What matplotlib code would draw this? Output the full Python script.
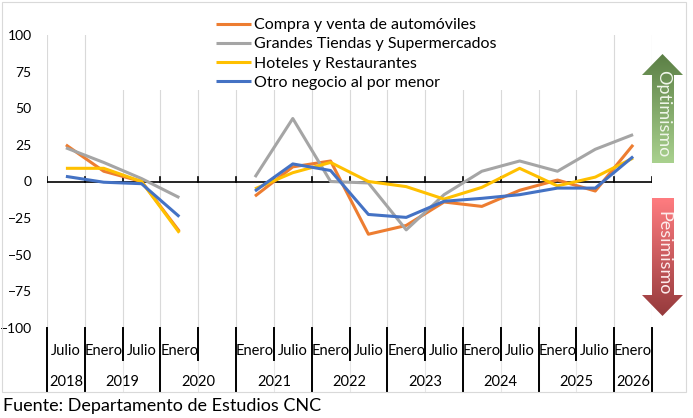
import matplotlib
matplotlib.use('Agg')
import matplotlib.pyplot as plt
import numpy as np
from matplotlib.patches import Polygon, Rectangle
from matplotlib.colors import LinearSegmentedColormap

plt.rcParams['font.family'] = ['Lato', 'DejaVu Sans']

# ---------------- data ----------------
months = ['Julio', 'Enero', 'Julio', 'Enero', '', 'Enero', 'Julio', 'Enero',
          'Julio', 'Enero', 'Julio', 'Enero', 'Julio', 'Enero', 'Julio', 'Enero']
years = ['2018', '2019', '2020', '2021', '2022', '2023', '2024', '2025', '2026']
year_spans = [1, 2, 2, 2, 2, 2, 2, 2, 1]
nan = np.nan
compra = [25, 7, 0, -34, nan, -10, 10, 14, -36, -30, -14, -17, -6, 1, -6.5, 25]
grandes = [23, 13, 2, -11, nan, 3, 43, 0, -1, -33, -9, 7, 14, 7, 22, 32]
hoteles = [9, 9, 0, -35, nan, -5, 6, 13, 0, -3.5, -12, -4, 9, -3, 3, 16]
otro = [3.5, -0.5, -1.5, -24, nan, -6.5, 12, 7.5, -22.5, -24.5, -13.5, -11.5, -9, -4.5, -4.5, 17]
series_names = ['Compra y venta de automóviles', 'Grandes Tiendas y Supermercados',
                'Hoteles y Restaurantes', 'Otro negocio al por menor']
series_vals = [compra, grandes, hoteles, otro]
colors = ['#ED7D31', '#A5A5A5', '#FFC000', '#4472C4']

W, H = 693, 418
fig = plt.figure(figsize=(W / 100, H / 100), dpi=100)
ax = fig.add_axes([47 / W, (H - 328) / H, 605 / W, 293 / H])
ax.set_xlim(0, len(months))
ax.set_ylim(-100, 100)
for s in ax.spines.values():
    s.set_visible(False)
ax.set_xticks([])
ax.set_yticks(range(-100, 101, 25))
ax.tick_params(axis='y', length=0, pad=11, labelsize=10)

n = len(months)
x = np.arange(n) + 0.5
trans = ax.get_xaxis_transform()

# vertical gridlines
for b in range(n + 1):
    ax.plot([b, b], [-100, 100], color='#d9d9d9', lw=0.8, zorder=1)
    ax.plot([b, b], [0, -0.218], color='#e6e6e6', lw=0.8, transform=trans,
            clip_on=False, zorder=1)

# zero axis with ticks
ax.axhline(0, color='black', lw=1.2, zorder=2)
for b in range(n + 1):
    ax.plot([b, b], [0, 3.4], color='black', lw=1.2, zorder=2)

# category axis below
year_bounds = np.concatenate([[0], np.cumsum(year_spans)])
for b in range(n + 1):
    if b in year_bounds:
        ax.plot([b, b], [0, -0.218], color='black', lw=1.4, transform=trans, clip_on=False, zorder=3)
    else:
        ax.plot([b, b], [0, -0.109], color='black', lw=1.4, transform=trans, clip_on=False, zorder=3)
for i, m in enumerate(months):
    ax.text(i + 0.5, -0.0785, m, transform=trans, ha='center', va='center', fontsize=10.5)
for i, yv in enumerate(years):
    c = (year_bounds[i] + year_bounds[i + 1]) / 2
    ax.text(c, -0.184, yv, transform=trans, ha='center', va='center', fontsize=10.5)

# series
handles = []
for name, vals, col in zip(series_names, series_vals, colors):
    h, = ax.plot(x, vals, color=col, lw=2.2, zorder=4, solid_capstyle='butt', label=name)
    handles.append(h)

# overlay in pixel coords
ov = fig.add_axes([0, 0, 1, 1], zorder=1)
ov.set_xlim(0, W)
ov.set_ylim(H, 0)
ov.axis('off')
ov.patch.set_alpha(0)

# white area behind legend
ov.add_patch(Rectangle((100, 25), 500, 65, facecolor='white', edgecolor='none', zorder=1))

# chart border
ov.add_patch(Rectangle((1.5, 1.5), 684, 390, fill=False, edgecolor='#d9d9d9', lw=0.8, zorder=2))


def grad_arrow(pts, extent, c_top, c_bot):
    poly = Polygon(pts, closed=True, facecolor='none', edgecolor='none')
    ov.add_patch(poly)
    cmap = LinearSegmentedColormap.from_list('g', [c_top, c_bot])
    grad = np.linspace(0, 1, 256).reshape(-1, 1)
    im = ov.imshow(grad, cmap=cmap, extent=extent, aspect='auto', origin='upper', zorder=3)
    im.set_clip_path(poly)


grad_arrow([(652, 163), (652, 75), (642, 75), (662.5, 54), (683, 75), (674, 75), (674, 163)],
           [642, 684, 163, 54], '#5b7f45', '#a9d18e')
grad_arrow([(652, 198), (652, 295), (642, 295), (662.5, 316), (683, 295), (674, 295), (674, 198)],
           [642, 684, 316, 198], '#ff7c80', '#953a3c')
ov.set_xlim(0, W)
ov.set_ylim(H, 0)
ov.text(663, 114, 'Optimismo', rotation=270, ha='center', va='center', color='#f0f6ea',
        fontsize=13, zorder=4)
ov.text(663, 253, 'Pesimismo', rotation=270, ha='center', va='center', color='#fdecec',
        fontsize=13, zorder=4)

ov.text(3, 406, 'Fuente: Departamento de Estudios CNC', ha='left', va='center', fontsize=13, zorder=4)

fig.legend(handles, series_names, loc='upper left', bbox_to_anchor=(216 / W, 1 - 18 / H),
           frameon=False, fontsize=11.5, handlelength=2.2, handletextpad=0.15,
           labelspacing=0.32, borderpad=0, borderaxespad=0)

fig.savefig('out.png', dpi=100)
